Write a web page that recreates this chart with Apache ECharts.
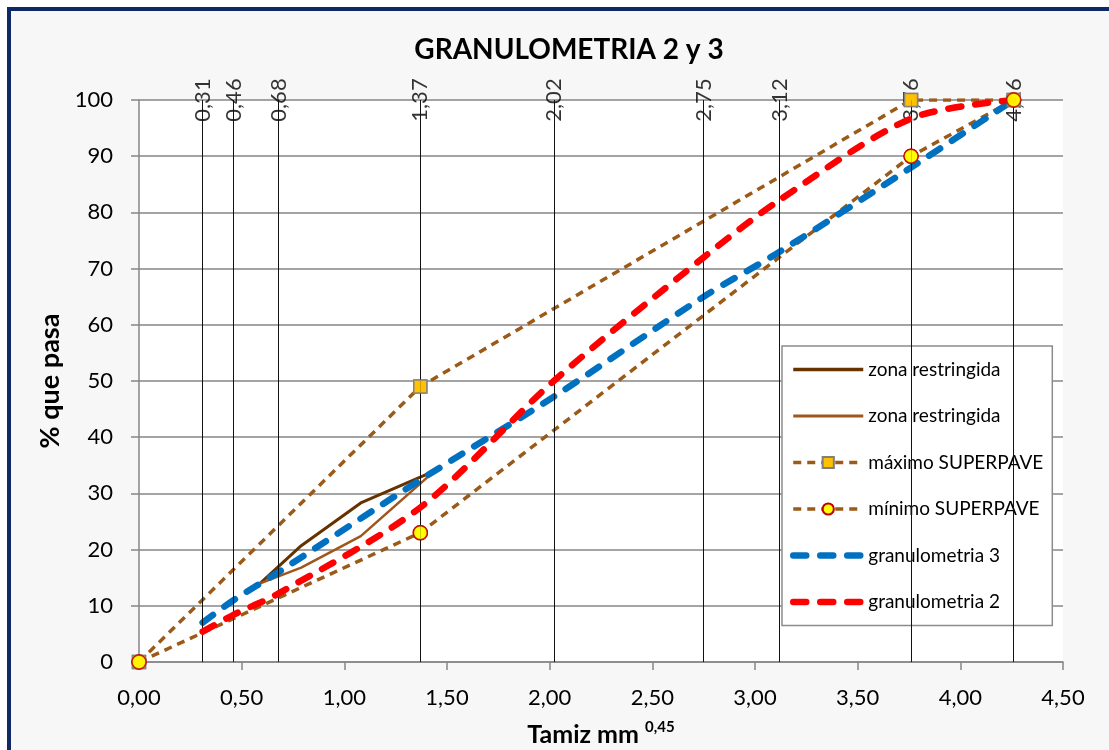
<!DOCTYPE html>
<html>
<head>
<meta charset="utf-8">
<script src="https://cdn.jsdelivr.net/npm/echarts@6/dist/echarts.min.js"></script>
<style>
  html, body { margin: 0; padding: 0; background: #fff; }
  #frame { position: absolute; left: 7px; top: 7px; width: 1120px; height: 770px;
           border: 4px solid #0d2a66; background: #f7f7f7; }
  #chart { position: absolute; left: 0; top: 0; width: 1109px; height: 750px; }
</style>
</head>
<body>
<div id="frame"></div>
<div id="chart"></div>
<script>
// tamices en mm^0.45
var tamices = [0.31, 0.46, 0.68, 1.37, 2.02, 2.75, 3.12, 3.76, 4.26];
var gran3 = [7, 11, 16, 32.4, 47.2, 65, 73, 88, 100];
var gran2 = [5.4, 8.4, 12.2, 27.5, 50, 72, 82.2, 96.7, 100];

var puntosControl = [0, 1.37, 3.76, 4.26];
var maximo = [0, 49, 100, 100];
var minimo = [0, 23, 90, 100];

var zonaX = [0.59, 0.79, 1.08, 1.44];
var zonaSup = [14, 20.7, 28.3, 34];
var zonaInf = [14, 16.8, 22.4, 34];

function pares(xs, ys) {
    return xs.map(function (x, i) { return [x, ys[i]]; });
}
function coma(v) {
    return v.toFixed(2).replace('.', ',');
}

var FONT = 'Lato';
var brown = '#9c5a19';
var maxSymbol = { color: '#ffc000', borderColor: '#7f7f7f', borderWidth: 1.5 };
var minSymbol = { color: '#ffff00', borderColor: '#c00000', borderWidth: 1.5 };
var brownDash = { color: brown, width: 3.5, type: [8, 6] };
var bigDash = { width: 6.5, type: [13, 14], cap: 'round' };
var noMarker = { opacity: 0 };

var chart = echarts.init(document.getElementById('chart'));
chart.setOption({
    backgroundColor: 'transparent',
    animation: false,
    textStyle: { fontFamily: FONT },
    title: {
        text: 'GRANULOMETRIA 2 y 3',
        left: 564, top: 31, textAlign: 'center',
        textStyle: { fontFamily: FONT, fontSize: 28, fontWeight: 'bold', color: '#000' }
    },
    grid: {
        left: 139, right: 46, top: 100, bottom: 88,
        containLabel: false, outerBoundsMode: 'none',
        backgroundColor: '#fff', show: true, borderWidth: 0
    },
    legend: {
        orient: 'vertical',
        left: 782, top: 346,
        padding: [14, 9, 14, 8],
        itemWidth: 70, itemHeight: 14, itemGap: 27.5,
        backgroundColor: '#fff',
        borderColor: '#8c8c8c', borderWidth: 1.5,
        textStyle: { fontFamily: FONT, fontSize: 19, color: '#000' },
        data: [
            { name: 'zona restringida', itemStyle: noMarker, lineStyle: { color: '#663300', width: 3.5 } },
            { name: 'zona restringida ', itemStyle: noMarker, lineStyle: { color: '#a0561a', width: 3 } },
            { name: 'máximo SUPERPAVE', lineStyle: brownDash },
            { name: 'mínimo SUPERPAVE', lineStyle: brownDash },
            { name: 'granulometria 3', itemStyle: noMarker, lineStyle: Object.assign({ color: '#0070c0' }, bigDash) },
            { name: 'granulometria 2', itemStyle: noMarker, lineStyle: Object.assign({ color: '#ff0000' }, bigDash) }
        ]
    },
    xAxis: {
        type: 'value', min: 0, max: 4.5, interval: 0.5,
        name: '{a|Tamiz mm }{b|0,45}',
        nameLocation: 'middle', nameGap: 58,
        nameTextStyle: {
            rich: {
                a: { fontFamily: FONT, fontSize: 25, fontWeight: 'bold', color: '#000', verticalAlign: 'bottom' },
                b: { fontFamily: FONT, fontSize: 15, fontWeight: 'bold', color: '#000', verticalAlign: 'top', padding: [0, 0, 12, 0] }
            }
        },
        axisLine: { lineStyle: { color: '#868686', width: 1.5 } },
        axisTick: { length: 8, lineStyle: { color: '#868686', width: 1.5 } },
        axisLabel: { fontFamily: FONT, fontSize: 22, color: '#000', margin: 25, formatter: coma },
        splitLine: { show: false }
    },
    yAxis: {
        type: 'value', min: 0, max: 100, interval: 10,
        name: '% que pasa',
        nameLocation: 'middle', nameGap: 75,
        nameTextStyle: { fontFamily: FONT, fontSize: 27, fontWeight: 'bold', color: '#000' },
        axisLine: { show: true, lineStyle: { color: '#868686', width: 1.5 } },
        axisTick: { show: true, length: 8, lineStyle: { color: '#868686', width: 1.5 } },
        axisLabel: { fontFamily: FONT, fontSize: 22, color: '#000', margin: 26 },
        splitLine: { lineStyle: { color: '#868686', width: 1.5 } }
    },
    series: [
        {
            // lineas verticales de los tamices
            name: 'tamices', type: 'scatter', symbolSize: 0, z: 1,
            data: tamices.map(function (t) { return [t, 100]; }),
            label: {
                show: true, position: 'inside', rotate: 90,
                fontFamily: FONT, fontSize: 22, color: '#000',
                formatter: function (p) { return coma(p.value[0]); }
            },
            markLine: {
                silent: true, symbol: 'none', label: { show: false },
                lineStyle: { color: '#111', width: 1, type: 'solid' },
                data: tamices.map(function (t) { return { xAxis: t }; })
            }
        },
        {
            name: 'zona restringida', type: 'line', symbol: 'none', z: 3,
            data: pares(zonaX, zonaSup),
            lineStyle: { color: '#663300', width: 3 }, itemStyle: { color: '#663300' }
        },
        {
            name: 'zona restringida ', type: 'line', symbol: 'none', z: 3,
            data: pares(zonaX, zonaInf),
            lineStyle: { color: '#a0561a', width: 2.5 }, itemStyle: { color: '#a0561a' }
        },
        {
            name: 'máximo SUPERPAVE', type: 'line', symbol: 'rect', symbolSize: 13, z: 3,
            data: pares(puntosControl, maximo),
            lineStyle: brownDash, itemStyle: maxSymbol
        },
        {
            name: 'mínimo SUPERPAVE', type: 'line', symbol: 'circle', symbolSize: 14, z: 3,
            data: pares(puntosControl, minimo),
            lineStyle: brownDash, itemStyle: minSymbol
        },
        {
            name: 'granulometria 3', type: 'line', symbol: 'none', smooth: 0.3, z: 4,
            data: pares(tamices, gran3),
            lineStyle: Object.assign({ color: '#0070c0' }, bigDash),
            itemStyle: { color: '#0070c0' }
        },
        {
            name: 'granulometria 2', type: 'line', symbol: 'none', smooth: 0.3, z: 5,
            data: pares(tamices, gran2),
            lineStyle: Object.assign({ color: '#ff0000' }, bigDash),
            itemStyle: { color: '#ff0000' }
        },
        {
            // marcadores encima de las curvas
            name: 'marcas max', type: 'scatter', symbol: 'rect', symbolSize: 13, z: 6,
            data: pares(puntosControl, maximo), itemStyle: maxSymbol
        },
        {
            name: 'marcas min', type: 'scatter', symbol: 'circle', symbolSize: 14, z: 7,
            data: pares(puntosControl, minimo), itemStyle: minSymbol
        }
    ]
});
</script>
</body>
</html>
